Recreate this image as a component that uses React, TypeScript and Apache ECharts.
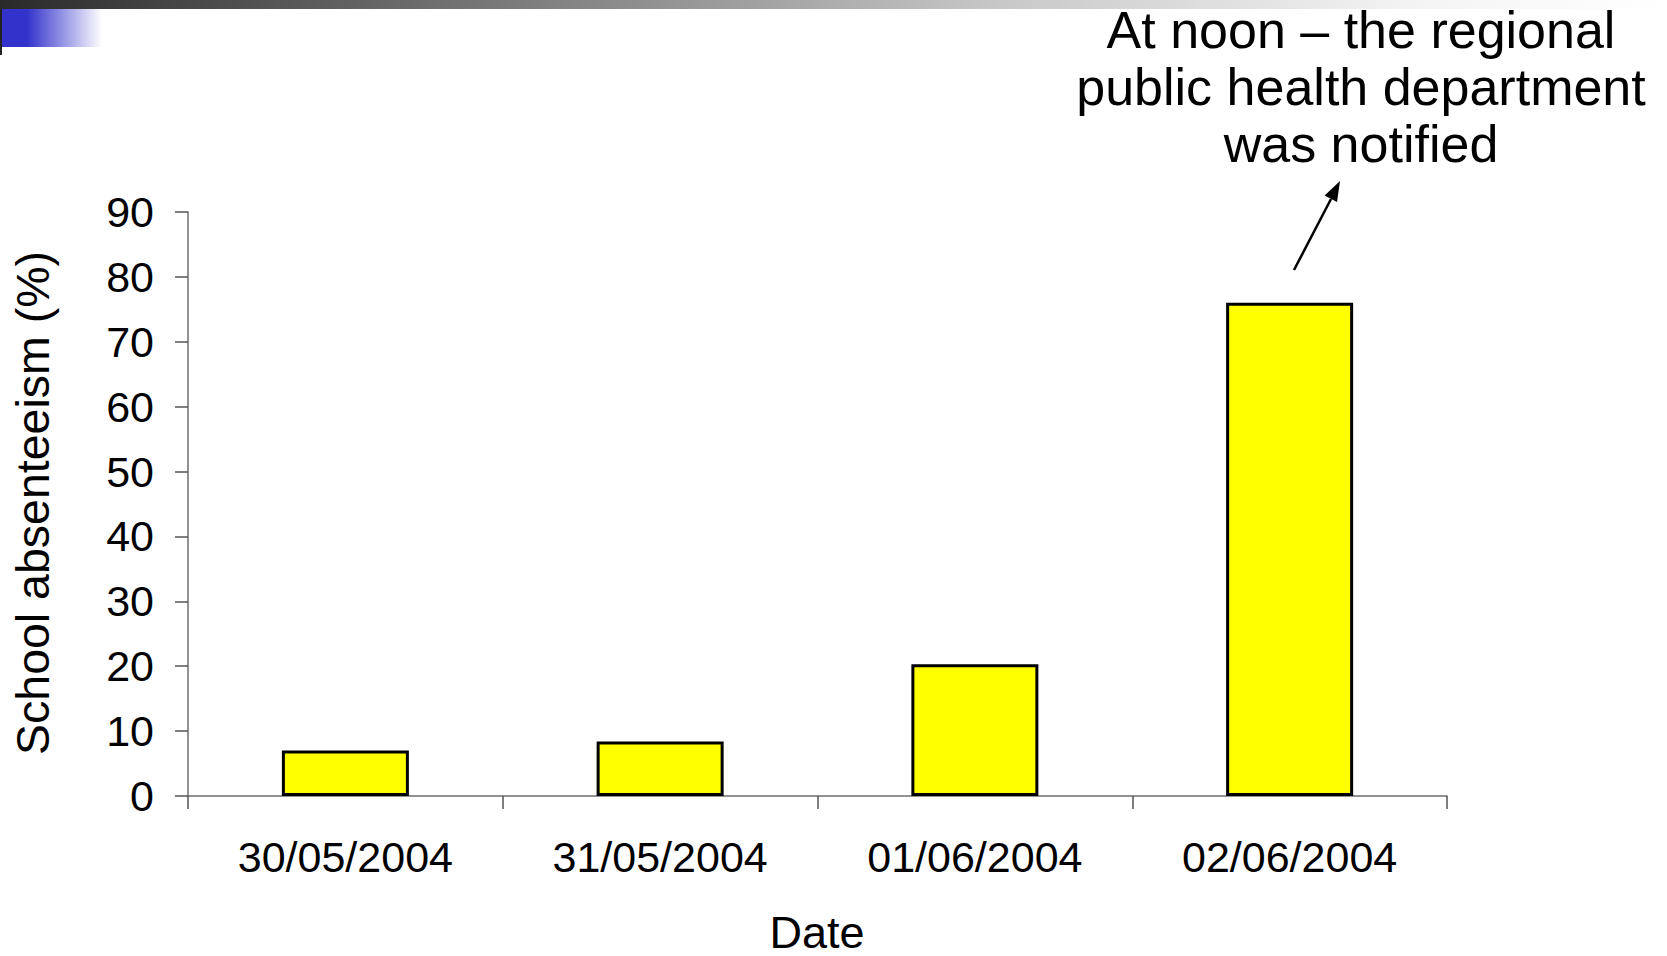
import React, { useEffect, useRef } from "react";
import * as echarts from "echarts";

// Daily school absenteeism around the outbreak notification
const dates = ["30/05/2004", "31/05/2004", "01/06/2004", "02/06/2004"];
const absenteeism = [7, 8.4, 20.3, 76];
const yTicks = { min: 0, max: 90, interval: 10 };
const noteLines = [
  "At noon – the regional",
  "public health department",
  "was notified",
];

const FONT = "'Liberation Sans', Arial, Helvetica, sans-serif";

export default function App() {
  const ref = useRef<HTMLDivElement>(null);

  useEffect(() => {
    if (!ref.current) return;
    const chart = echarts.init(ref.current, null, { renderer: "svg" });

    const option: echarts.EChartsCoreOption = {
      animation: false,
      backgroundColor: "#ffffff",
      grid: { left: 188, top: 212, width: 1259, height: 584, containLabel: false },
      xAxis: {
        type: "category",
        data: dates,
        boundaryGap: true,
        axisLine: { lineStyle: { color: "#6e6e6e", width: 1.5 } },
        axisTick: { show: true, length: 13, lineStyle: { color: "#555", width: 1.5 } },
        axisLabel: { color: "#000", fontSize: 43, fontFamily: FONT, margin: 39 },
        splitLine: { show: false },
      },
      yAxis: {
        type: "value",
        min: yTicks.min,
        max: yTicks.max,
        interval: yTicks.interval,
        axisLine: { show: true, lineStyle: { color: "#6e6e6e", width: 1.5 } },
        axisTick: { show: true, length: 13, lineStyle: { color: "#555", width: 1.5 } },
        axisLabel: { color: "#000", fontSize: 43, fontFamily: FONT, margin: 34 },
        splitLine: { show: false },
      },
      series: [
        {
          type: "bar",
          data: absenteeism,
          barWidth: 127,
          itemStyle: { color: "#ffff00", borderColor: "#000", borderWidth: 3 },
        },
      ],
      graphic: [
        // header band
        {
          type: "rect",
          shape: { x: 0, y: 0, width: 1667, height: 9 },
          style: {
            fill: new echarts.graphic.LinearGradient(0, 0, 1, 0, [
              { offset: 0, color: "#2a2a2a" },
              { offset: 0.6, color: "#c8c8c8" },
              { offset: 0.85, color: "#f4f4f4" },
              { offset: 1, color: "#ffffff" },
            ]),
          },
        },
        {
          type: "rect",
          shape: { x: 2, y: 9, width: 100, height: 38 },
          style: {
            fill: new echarts.graphic.LinearGradient(0, 0, 1, 0, [
              { offset: 0, color: "#3333cc" },
              { offset: 0.25, color: "#3333cc" },
              { offset: 1, color: "#ffffff" },
            ]),
          },
        },
        {
          type: "rect",
          shape: { x: 0, y: 9, width: 2, height: 46 },
          style: { fill: "#222" },
        },
        // y-axis title
        {
          type: "text",
          x: 33,
          y: 503,
          rotation: Math.PI / 2,
          style: {
            text: "School absenteeism (%)",
            fontSize: 46.5,
            fontFamily: FONT,
            fill: "#000",
            textAlign: "center",
            textVerticalAlign: "middle",
          },
        },
        // x-axis title
        {
          type: "text",
          x: 817,
          y: 932,
          style: {
            text: "Date",
            fontSize: 45,
            lineHeight: 44,
            fontFamily: FONT,
            fill: "#000",
            textAlign: "center",
            textVerticalAlign: "middle",
          },
        },
        // annotation
        ...noteLines.map((line, i) => ({
          type: "text",
          x: 1361,
          y: 30 + i * 57,
          style: {
            text: line,
            fontSize: 52,
            fontFamily: FONT,
            fill: "#000",
            textAlign: "center",
            textVerticalAlign: "middle",
          },
        })),
        {
          type: "line",
          shape: { x1: 1294, y1: 270, x2: 1331, y2: 199 },
          style: { stroke: "#000", lineWidth: 2.5 },
        },
        {
          type: "polygon",
          shape: { points: [[1340, 181], [1337, 202], [1324.6, 195.6]] },
          style: { fill: "#000" },
        },
      ],
    };

    chart.setOption(option);
    return () => chart.dispose();
  }, []);

  return (
    <div
      ref={ref}
      style={{ position: "absolute", left: 0, top: 0, width: 1667, height: 956 }}
    />
  );
}
